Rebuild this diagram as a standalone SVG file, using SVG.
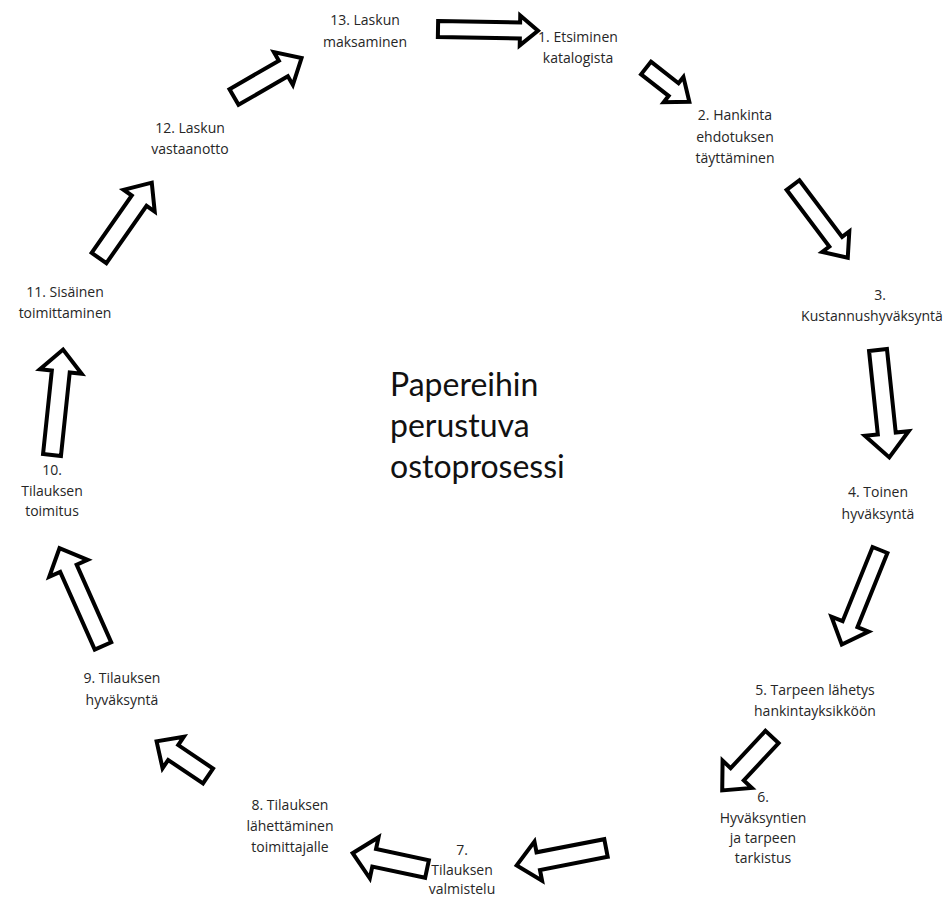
<svg xmlns="http://www.w3.org/2000/svg" width="951" height="897" viewBox="0 0 951 897">
<style>
.lbl{font-family:"Open Sans","DejaVu Sans",sans-serif;font-size:14px;fill:#262626;text-anchor:middle}
.title{font-family:Lato,"Open Sans",sans-serif;font-size:32px;fill:#111}
.arr{fill:#fff;stroke:#000;stroke-width:4;stroke-linejoin:miter}
</style>
<rect width="951" height="897" fill="#fff"/>
<g id="connectors">
<polygon class="arr" transform="translate(438,29) rotate(1)" points="0,-8 82,-8 82,-15 100,0 82,15 82,8 0,8"/>
<polygon class="arr" transform="translate(646,68) rotate(38)" points="0,-8 35,-8 35,-16 55,0 35,16 35,8 0,8"/>
<polygon class="arr" transform="translate(793,185) rotate(53)" points="0,-8 71,-8 71,-17 91,0 71,17 71,8 0,8"/>
<polygon class="arr" transform="translate(878,350) rotate(84)" points="0,-9 84,-9 84,-22 108,0 84,22 84,9 0,9"/>
<polygon class="arr" transform="translate(880,550) rotate(112)" points="0,-8 80,-8 80,-20 102,0 80,20 80,8 0,8"/>
<polygon class="arr" transform="translate(772,737) rotate(133)" points="0,-9 51,-9 51,-20 73,0 51,20 51,9 0,9"/>
<polygon class="arr" transform="translate(606,848) rotate(169)" points="0,-9 69,-9 69,-20 91,0 69,20 69,9 0,9"/>
<polygon class="arr" transform="translate(427,869) rotate(192)" points="0,-9 54,-9 54,-21 76,0 54,21 54,9 0,9"/>
<polygon class="arr" transform="translate(208,776) rotate(214)" points="0,-9 42,-9 42,-19 62,0 42,19 42,9 0,9"/>
<polygon class="arr" transform="translate(103,646) rotate(246)" points="0,-9 85,-9 85,-21 107,0 85,21 85,9 0,9"/>
<polygon class="arr" transform="translate(52,455) rotate(276)" points="0,-9 84,-9 84,-21 106,0 84,21 84,9 0,9"/>
<polygon class="arr" transform="translate(99,258) rotate(305)" points="0,-9 70,-9 70,-19 92,0 70,19 70,9 0,9"/>
<polygon class="arr" transform="translate(234,97) rotate(330)" points="0,-9 57,-9 57,-19 78,0 57,19 57,9 0,9"/>
</g>
<g id="center"><text class="title" x="390" y="396">Papereihin</text><text class="title" x="390" y="437">perustuva</text><text class="title" x="390" y="478">ostoprosessi</text></g>
<g id="n13"><text class="lbl" x="365" y="25">13. Laskun</text><text class="lbl" x="365" y="47">maksaminen</text></g>
<g id="n1"><text class="lbl" x="578" y="42">1. Etsiminen</text><text class="lbl" x="578" y="63">katalogista</text></g>
<g id="n2"><text class="lbl" x="735" y="120">2. Hankinta</text><text class="lbl" x="735" y="142">ehdotuksen</text><text class="lbl" x="735" y="163">täyttäminen</text></g>
<g id="n3"><text class="lbl" x="880" y="300">3.</text><text class="lbl" x="872" y="321">Kustannushyväksyntä</text></g>
<g id="n4"><text class="lbl" x="878" y="497">4. Toinen</text><text class="lbl" x="878" y="519">hyväksyntä</text></g>
<g id="n5"><text class="lbl" x="815" y="695">5. Tarpeen lähetys</text><text class="lbl" x="815" y="716">hankintayksikköön</text></g>
<g id="n6"><text class="lbl" x="763" y="802">6.</text><text class="lbl" x="763" y="823">Hyväksyntien</text><text class="lbl" x="763" y="843">ja tarpeen</text><text class="lbl" x="763" y="863">tarkistus</text></g>
<g id="n7"><text class="lbl" x="462" y="855">7.</text><text class="lbl" x="462" y="875">Tilauksen</text><text class="lbl" x="462" y="894">valmistelu</text></g>
<g id="n8"><text class="lbl" x="290" y="810">8. Tilauksen</text><text class="lbl" x="290" y="831">lähettäminen</text><text class="lbl" x="290" y="852">toimittajalle</text></g>
<g id="n9"><text class="lbl" x="122" y="683">9. Tilauksen</text><text class="lbl" x="122" y="705">hyväksyntä</text></g>
<g id="n10"><text class="lbl" x="52" y="475">10.</text><text class="lbl" x="52" y="496">Tilauksen</text><text class="lbl" x="52" y="516">toimitus</text></g>
<g id="n11"><text class="lbl" x="65" y="297">11. Sisäinen</text><text class="lbl" x="65" y="318">toimittaminen</text></g>
<g id="n12"><text class="lbl" x="190" y="133">12. Laskun</text><text class="lbl" x="190" y="154">vastaanotto</text></g>
</svg>
